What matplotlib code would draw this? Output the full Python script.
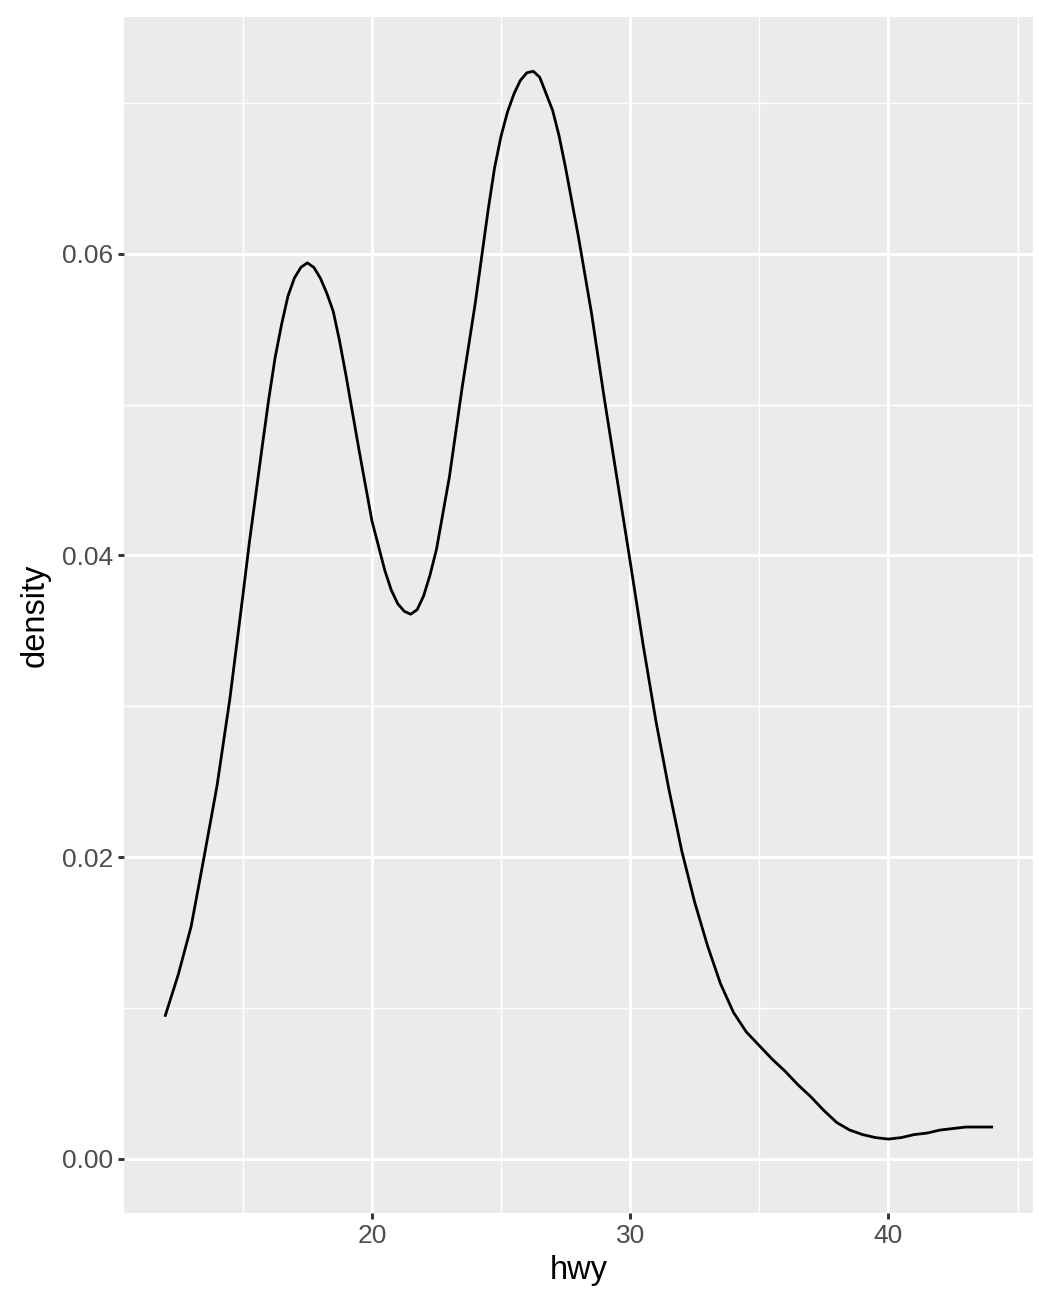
import numpy as np
import matplotlib.pyplot as plt

# density of hwy (finer steps where the curve bends)
hwy = [12, 12.5, 13, 13.5, 14, 14.5, 14.75, 15, 15.25, 15.5, 15.75, 16, 16.25,
       16.5, 16.75, 17, 17.25, 17.5, 17.75, 18, 18.25, 18.5, 18.75, 19, 19.5,
       20, 20.5, 20.75, 21, 21.25, 21.5, 21.75, 22, 22.25, 22.5, 23, 23.5, 24,
       24.5, 24.75, 25, 25.25, 25.5, 25.75, 26, 26.25, 26.5, 26.75, 27, 27.25,
       27.5, 28, 28.5, 29, 29.5, 30, 30.5, 31, 31.5, 32, 32.5, 33, 33.5, 34,
       34.5, 35, 35.5, 36, 36.5, 37, 37.5, 38, 38.5, 39, 39.5, 40, 40.5, 41,
       41.5, 42, 42.5, 43, 43.5, 44]
density = [0.0095, 0.0122, 0.0154, 0.0200, 0.0247, 0.0305, 0.0339, 0.0373,
           0.0408, 0.0440, 0.0472, 0.0503, 0.0531, 0.0553, 0.0572, 0.0584,
           0.0591, 0.0594, 0.0591, 0.0584, 0.0574, 0.0562, 0.0542, 0.0519,
           0.0470, 0.0423, 0.0390, 0.0377, 0.0368, 0.0363, 0.0361, 0.0364,
           0.0373, 0.0387, 0.0404, 0.0452, 0.0512, 0.0567, 0.0629, 0.0657,
           0.0678, 0.0694, 0.0706, 0.0715, 0.0720, 0.0721, 0.0717, 0.0706,
           0.0695, 0.0678, 0.0657, 0.0611, 0.0561, 0.0504, 0.0450, 0.0396,
           0.0341, 0.0290, 0.0245, 0.0204, 0.0170, 0.0141, 0.0116, 0.0097,
           0.0084, 0.0075, 0.0066, 0.0058, 0.0049, 0.0041, 0.0032, 0.0024,
           0.0019, 0.0016, 0.0014, 0.0013, 0.0014, 0.0016, 0.0017, 0.0019,
           0.0020, 0.0021, 0.0021, 0.0021]

x_major = [20, 30, 40]
x_minor = [15, 25, 35, 45]
y_major = [0.00, 0.02, 0.04, 0.06]
y_minor = [0.01, 0.03, 0.05, 0.07]

plt.rcParams['font.family'] = ['Liberation Sans', 'DejaVu Sans']

fig = plt.figure(figsize=(10.5, 13.12), dpi=100)
ax = fig.add_axes([124/1050, 1 - 1213/1312, (1033-124)/1050, (1213-17)/1312])
ax.set_facecolor('#EBEBEB')
for s in ax.spines.values():
    s.set_visible(False)

ax.set_xlim(10.4, 45.6)
ax.set_ylim(-0.0036, 0.0757)

ax.set_xticks(x_major)
ax.set_xticks(x_minor, minor=True)
ax.set_yticks(y_major)
ax.set_yticks(y_minor, minor=True)
ax.set_xticklabels([str(v) for v in x_major])
ax.set_yticklabels(['%.2f' % v for v in y_major])

ax.grid(which='major', color='white', linewidth=2.1)
ax.grid(which='minor', color='white', linewidth=1.05)
ax.set_axisbelow(True)

ax.tick_params(which='major', length=4.1, width=2.1, color='#333333',
               labelsize=19, labelcolor='#4D4D4D', pad=3.5)
ax.tick_params(which='minor', length=0)

ax.plot(hwy, density, color='black', linewidth=2.0, solid_joinstyle='round')

ax.set_xlabel('hwy', fontsize=23.5, color='black', labelpad=5)
ax.set_ylabel('density', fontsize=23.5, color='black', labelpad=8)

fig.savefig('out.png', dpi=100)
